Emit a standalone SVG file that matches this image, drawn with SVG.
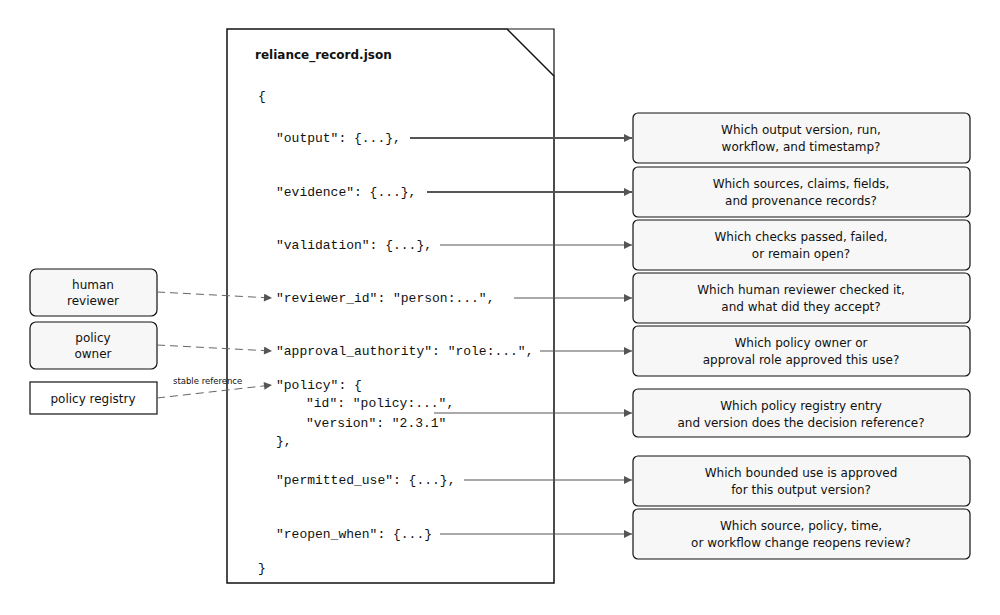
<svg xmlns="http://www.w3.org/2000/svg" width="1000" height="615" viewBox="0 0 1000 615">
<defs>
<marker id="ah" viewBox="0 0 10 10" refX="10" refY="5" markerWidth="10" markerHeight="8" markerUnits="userSpaceOnUse" orient="auto"><path d="M0,0 L10,5 L0,10 z" fill="#555"/></marker>
<style>
text{font-family:"DejaVu Sans","Liberation Sans",sans-serif;font-size:12px;fill:#111}
.code{font-family:"Liberation Mono","DejaVu Sans Mono",monospace;font-size:13px}
.q{text-anchor:middle}
.box{fill:#f7f7f7;stroke:#111;stroke-width:1.2}
.c{stroke:#555;fill:none;marker-end:url(#ah)}
.d{stroke:#666;fill:none;stroke-dasharray:8,5;marker-end:url(#ah)}
</style>
</defs>
<rect width="1000" height="615" fill="#fff"/>
<g id="document">
<path d="M227,29 H507 L554,76 V583 H227 Z" fill="#fff" stroke="#111" stroke-width="1.5"/>
<path d="M507,29 H554 V76" fill="none" stroke="#111" stroke-width="1.2"/>
<text x="255" y="59" style="font-weight:bold;font-size:12px">reliance_record.json</text>
<text class="code" x="258" y="100">{</text>
<text class="code" x="276" y="142">"output": {...},</text>
<text class="code" x="276" y="196">"evidence": {...},</text>
<text class="code" x="276" y="249">"validation": {...},</text>
<text class="code" x="276" y="302">"reviewer_id": "person:...",</text>
<text class="code" x="276" y="355">"approval_authority": "role:...",</text>
<text class="code" x="276" y="389">"policy": {</text>
<text class="code" x="306" y="407">"id": "policy:...",</text>
<text class="code" x="306" y="427">"version": "2.3.1"</text>
<text class="code" x="276" y="445">},</text>
<text class="code" x="276" y="484">"permitted_use": {...},</text>
<text class="code" x="276" y="538">"reopen_when": {...}</text>
<text class="code" x="258" y="572">}</text>
</g>
<g id="q1"><rect class="box" x="633" y="113" width="337" height="50" rx="5"/><text class="q" x="801" y="134">Which output version, run,</text><text class="q" x="801" y="151">workflow, and timestamp?</text></g>
<g id="q2"><rect class="box" x="633" y="167" width="337" height="50" rx="5"/><text class="q" x="801" y="188">Which sources, claims, fields,</text><text class="q" x="801" y="205">and provenance records?</text></g>
<g id="q3"><rect class="box" x="633" y="220" width="337" height="50" rx="5"/><text class="q" x="801" y="241">Which checks passed, failed,</text><text class="q" x="801" y="258">or remain open?</text></g>
<g id="q4"><rect class="box" x="633" y="273" width="337" height="50" rx="5"/><text class="q" x="801" y="294">Which human reviewer checked it,</text><text class="q" x="801" y="311">and what did they accept?</text></g>
<g id="q5"><rect class="box" x="633" y="326" width="337" height="50" rx="5"/><text class="q" x="801" y="347">Which policy owner or</text><text class="q" x="801" y="364">approval role approved this use?</text></g>
<g id="q6"><rect class="box" x="633" y="389" width="337" height="48" rx="5"/><text class="q" x="801" y="410">Which policy registry entry</text><text class="q" x="801" y="427">and version does the decision reference?</text></g>
<g id="q7"><rect class="box" x="633" y="456" width="337" height="50" rx="5"/><text class="q" x="801" y="477">Which bounded use is approved</text><text class="q" x="801" y="494">for this output version?</text></g>
<g id="q8"><rect class="box" x="633" y="509" width="337" height="50" rx="5"/><text class="q" x="801" y="530">Which source, policy, time,</text><text class="q" x="801" y="547">or workflow change reopens review?</text></g>
<g id="human-reviewer"><rect class="box" x="30" y="269" width="127" height="47" rx="6"/><text class="q" x="93" y="289">human</text><text class="q" x="93" y="305">reviewer</text></g>
<g id="policy-owner"><rect class="box" x="30" y="322" width="127" height="47" rx="6"/><text class="q" x="93" y="342">policy</text><text class="q" x="93" y="358">owner</text></g>
<g id="policy-registry"><rect x="30" y="382" width="127" height="32" fill="#fff" stroke="#111" stroke-width="1.2"/><text class="q" x="93" y="403">policy registry</text></g>
<g id="connectors">
<line class="c" x1="410" y1="138" x2="632" y2="138" stroke-width="2"/>
<line class="c" x1="427" y1="192" x2="632" y2="192" stroke-width="2"/>
<line class="c" x1="440" y1="245" x2="632" y2="245"/>
<line class="c" x1="514" y1="298" x2="632" y2="298"/>
<line class="c" x1="540" y1="351" x2="632" y2="351"/>
<line class="c" x1="434" y1="413" x2="632" y2="413"/>
<line class="c" x1="464" y1="480" x2="632" y2="480"/>
<line class="c" x1="440" y1="534" x2="632" y2="534"/>
<line class="d" x1="157" y1="292" x2="272" y2="298"/>
<line class="d" x1="157" y1="345" x2="272" y2="351"/>
<line class="d" x1="157" y1="398" x2="272" y2="385"/>
<text x="173" y="384" style="font-size:8.5px">stable reference</text>
</g>
</svg>
